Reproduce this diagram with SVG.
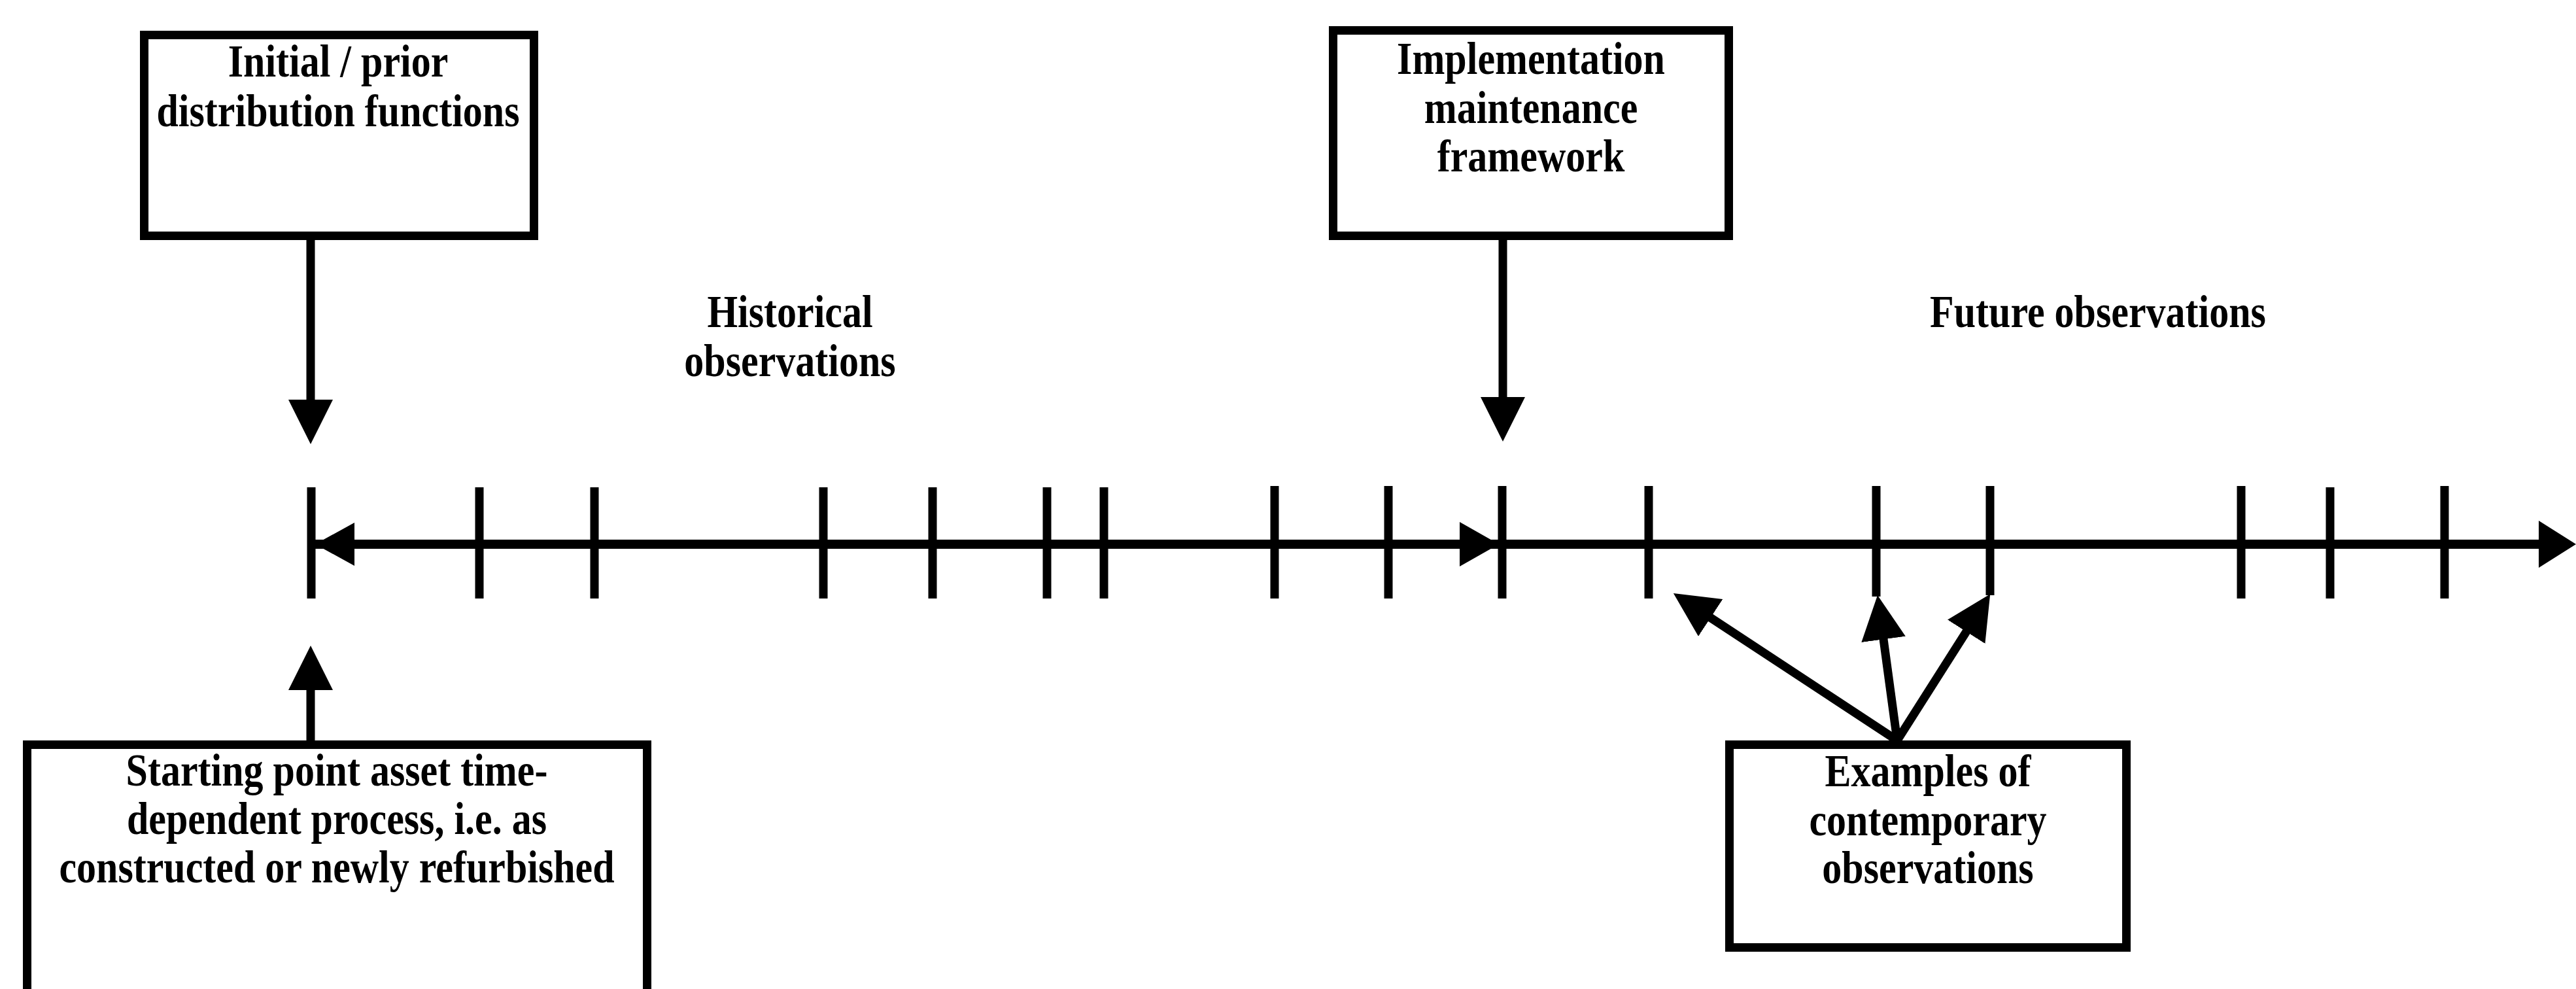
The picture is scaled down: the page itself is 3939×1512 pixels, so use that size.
<svg xmlns="http://www.w3.org/2000/svg" width="3939" height="1512" viewBox="0 0 3939 1512">
  <style>
    .box{fill:#fff;stroke:#000;stroke-width:13}
    .lbl{font-family:'Liberation Serif','Times New Roman',serif;font-weight:bold;font-size:60px;fill:#000;text-anchor:middle}
    .ln{stroke:#000;stroke-width:13;fill:none}
    .axis{stroke:#000;stroke-width:14;fill:none}
    .tick{stroke:#000;stroke-width:13}
    .head{fill:#000}
  </style>
  <defs>
    <!-- solid triangular arrowhead; tip sits 60 units past the line end -->
    <marker id="arw" markerUnits="userSpaceOnUse" viewBox="0 0 68 68" markerWidth="68" markerHeight="68" refX="8" refY="34" orient="auto">
      <path d="M0,0 L68,34 L0,68 z" fill="#000"/>
    </marker>
  </defs>
  <rect width="3939" height="1512" fill="#fff"/>

  <!-- time axis with observation ticks -->
  <g id="timeline">
    <line class="axis" x1="476" y1="832" x2="3886" y2="832"/>
    <path class="head" d="M482,832 L542,799 L542,865 z"/>
    <path class="head" d="M2292,832 L2232,798 L2232,866 z"/>
    <path class="head" d="M3939,832 L3882,796 L3882,868 z"/>
    <g class="tick">
      <line x1="476" y1="745" x2="476" y2="915"/>
      <line x1="733" y1="745" x2="733" y2="915"/>
      <line x1="909" y1="745" x2="909" y2="915"/>
      <line x1="1259" y1="745" x2="1259" y2="915"/>
      <line x1="1426" y1="745" x2="1426" y2="915"/>
      <line x1="1601" y1="745" x2="1601" y2="915"/>
      <line x1="1688" y1="745" x2="1688" y2="915"/>
      <line x1="1949" y1="743" x2="1949" y2="915"/>
      <line x1="2123" y1="743" x2="2123" y2="915"/>
      <line x1="2297" y1="743" x2="2297" y2="915"/>
      <line x1="2521" y1="743" x2="2521" y2="915"/>
      <line x1="2869" y1="743" x2="2869" y2="912"/>
      <line x1="3043" y1="743" x2="3043" y2="910"/>
      <line x1="3427" y1="743" x2="3427" y2="915"/>
      <line x1="3563" y1="745" x2="3563" y2="915"/>
      <line x1="3738" y1="743" x2="3738" y2="915"/>
    </g>
  </g>

  <!-- connectors -->
  <g id="connectors">
    <line class="ln" x1="475" y1="367" x2="475" y2="619" marker-end="url(#arw)"/>
    <line class="ln" x1="2298" y1="367" x2="2298" y2="615" marker-end="url(#arw)"/>
    <line class="ln" x1="475" y1="1132" x2="475" y2="1047" marker-end="url(#arw)"/>
    <line class="ln" x1="2901" y1="1132" x2="2609" y2="940" marker-end="url(#arw)"/>
    <line class="ln" x1="2901" y1="1132" x2="2879" y2="969.5" marker-end="url(#arw)"/>
    <line class="ln" x1="2901" y1="1132" x2="3011" y2="959" marker-end="url(#arw)"/>
  </g>

  <g id="prior">
    <rect class="box" x="220.5" y="53.5" width="596" height="307"/>
    <text class="lbl" transform="translate(517,117) scale(1,1.15)"><tspan x="0" y="0">Initial / prior</tspan><tspan x="0" y="66">distribution functions</tspan></text>
  </g>

  <g id="framework">
    <rect class="box" x="2038.5" y="46.5" width="605" height="314"/>
    <text class="lbl" transform="translate(2341,113) scale(1,1.15)"><tspan x="0" y="0">Implementation</tspan><tspan x="0" y="65">maintenance</tspan><tspan x="0" y="130">framework</tspan></text>
  </g>

  <g id="historical">
    <text class="lbl" transform="translate(1208,500) scale(1,1.15)"><tspan x="0" y="0">Historical</tspan><tspan x="0" y="65">observations</tspan></text>
  </g>

  <g id="future">
    <text class="lbl" transform="translate(3208,500) scale(1,1.15)">Future observations</text>
  </g>

  <g id="start">
    <rect class="box" x="41.5" y="1138.5" width="948" height="500"/>
    <text class="lbl" transform="translate(515,1201) scale(1,1.15)"><tspan x="0" y="0">Starting point asset time-</tspan><tspan x="0" y="64.3">dependent process, i.e. as</tspan><tspan x="0" y="128.6">constructed or newly refurbished</tspan></text>
  </g>

  <g id="examples">
    <rect class="box" x="2644.5" y="1138.5" width="607" height="310"/>
    <text class="lbl" transform="translate(2948,1202) scale(1,1.15)"><tspan x="0" y="0">Examples of</tspan><tspan x="0" y="65">contemporary</tspan><tspan x="0" y="128.5">observations</tspan></text>
  </g>
</svg>
